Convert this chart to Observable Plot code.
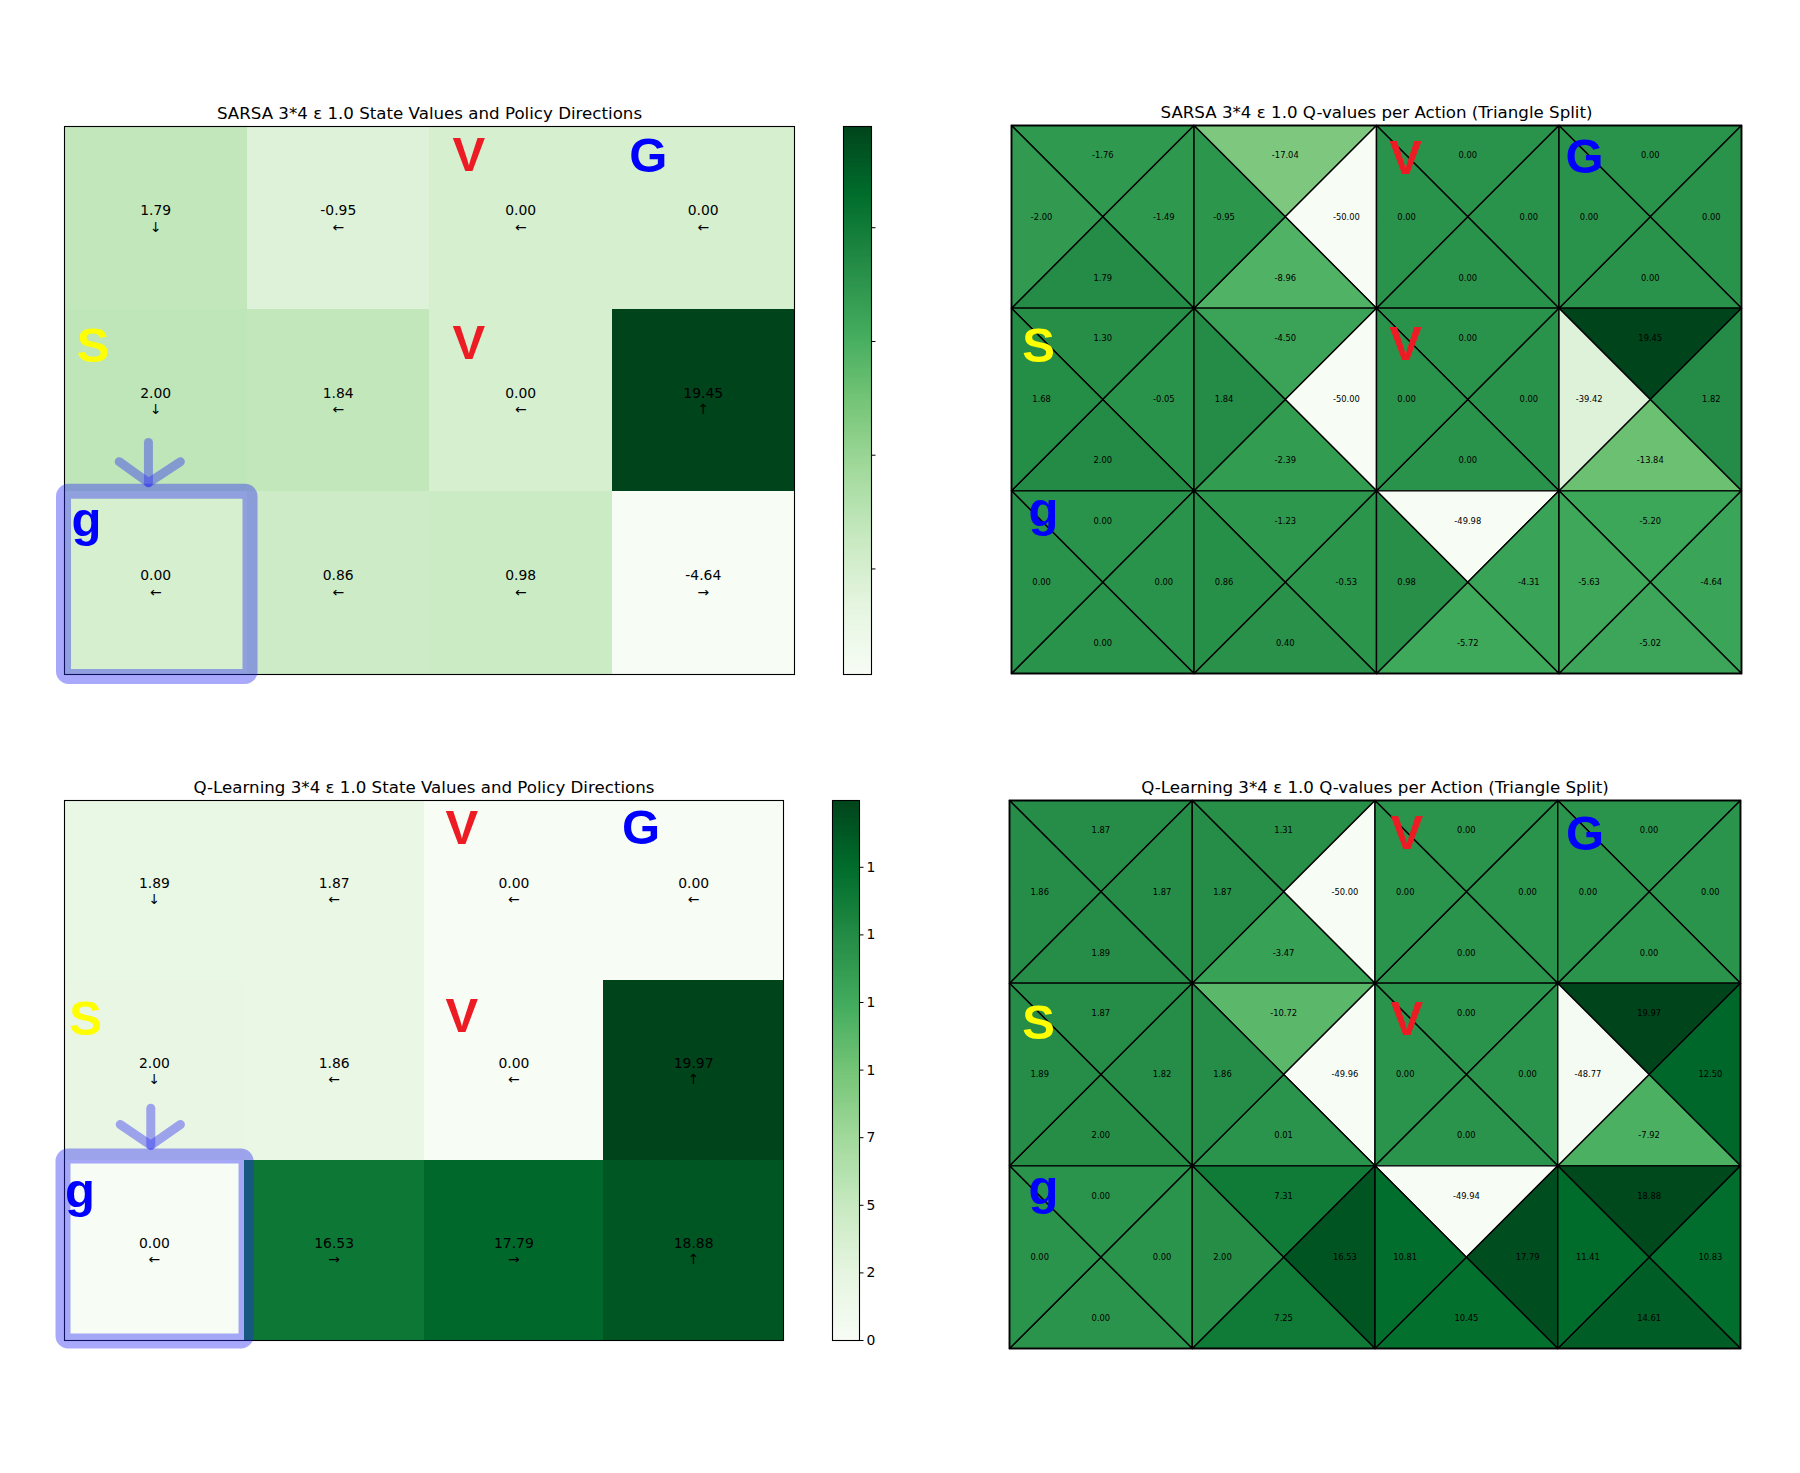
<!DOCTYPE html>
<html>
<head>
<meta charset="utf-8">
<script src="https://cdn.jsdelivr.net/npm/d3@7"></script>
<script src="https://cdn.jsdelivr.net/npm/@observablehq/plot@0.6"></script>
<style>
  body { margin: 0; background: #fff; }
  #fig { position: relative; width: 1800px; height: 1473px; background: #fff; overflow: hidden; }
  .clipL { position: absolute; left: 0; top: 0; width: 876px; height: 1473px; overflow: hidden; }
  .panel { position: absolute; }
  .panel svg { overflow: visible; background: transparent !important; max-width: none !important; }
</style>
</head>
<body>
<div id="fig"><div class="clipL" id="leftClip"></div></div>
<script>
// ---------------- DATA ----------------
const nRows = 3, nCols = 4;

const sarsaHeatTitle = "SARSA 3*4 ε 1.0 State Values and Policy Directions";
const sarsaQTitle = "SARSA 3*4 ε 1.0 Q-values per Action (Triangle Split)";
const qlHeatTitle = "Q-Learning 3*4 ε 1.0 State Values and Policy Directions";
const qlQTitle = "Q-Learning 3*4 ε 1.0 Q-values per Action (Triangle Split)";

// state values (row-major, 3 rows x 4 cols)
const sarsaValues = [1.79, -0.95, 0.00, 0.00,
                     2.00, 1.84, 0.00, 19.45,
                     0.00, 0.86, 0.98, -4.64];
const sarsaPolicy = ["↓", "←", "←", "←",
                     "↓", "←", "←", "↑",
                     "←", "←", "←", "→"];
const qlValues = [1.89, 1.87, 0.00, 0.00,
                  2.00, 1.86, 0.00, 19.97,
                  0.00, 16.53, 17.79, 18.88];
const qlPolicy = ["↓", "←", "←", "←",
                  "↓", "←", "←", "↑",
                  "←", "→", "→", "↑"];

// Q-values per action (row-major)
const sarsaQUp    = [-1.76, -17.04, 0.00, 0.00,   1.30, -4.50, 0.00, 19.45,   0.00, -1.23, -49.98, -5.20];
const sarsaQRight = [-1.49, -50.00, 0.00, 0.00,  -0.05, -50.00, 0.00, 1.82,   0.00, -0.53, -4.31, -4.64];
const sarsaQDown  = [ 1.79, -8.96, 0.00, 0.00,    2.00, -2.39, 0.00, -13.84,  0.00, 0.40, -5.72, -5.02];
const sarsaQLeft  = [-2.00, -0.95, 0.00, 0.00,    1.68, 1.84, 0.00, -39.42,   0.00, 0.86, 0.98, -5.63];

const qlQUp    = [1.87, 1.31, 0.00, 0.00,   1.87, -10.72, 0.00, 19.97,   0.00, 7.31, -49.94, 18.88];
const qlQRight = [1.87, -50.00, 0.00, 0.00, 1.82, -49.96, 0.00, 12.50,   0.00, 16.53, 17.79, 10.83];
const qlQDown  = [1.89, -3.47, 0.00, 0.00,  2.00, 0.01, 0.00, -7.92,     0.00, 7.25, 10.45, 14.61];
const qlQLeft  = [1.86, 1.87, 0.00, 0.00,   1.89, 1.86, 0.00, -48.77,    0.00, 2.00, 10.81, 11.41];

// grid markers
const markerLabels = ["V", "G", "S", "V", "g"];
const markerRows   = [0, 0, 1, 1, 2];
const markerCols   = [2, 3, 0, 2, 0];
const markerColors = ["#ed1c24", "#0000ff", "#ffff00", "#ed1c24", "#0000ff"];

const highlightRow = 2, highlightCol = 0;

const sarsaCbarTicks = [0, 5, 10, 15];
const qlCbarTicks = [0, 2.5, 5, 7.5, 10, 12.5, 15, 17.5];

const greens = ["#f7fcf5", "#e5f5e0", "#c7e9c0", "#a1d99b", "#74c476", "#41ab5d", "#238b45", "#006d2c", "#00441b"];

// ---------------- HELPERS ----------------
const FONT = "DejaVu Sans";
const PAD_X = 22, PAD_T = 48, PAD_B = 22;

function colorScale(min, max) {
  return {type: "linear", domain: greens.map((_, i) => min + (max - min) * i / (greens.length - 1)),
          range: greens, interpolate: "rgb"};
}

function markerData(offsets) {
  return markerLabels.map((label, i) => ({
    label, row: markerRows[i], col: markerCols[i], color: markerColors[i],
    fx: offsets[i][0], fy: offsets[i][1]
  }));
}

function markerMark(offsets) {
  return Plot.text(markerData(offsets), {
    x: d => d.col + d.fx, y: d => d.row + d.fy, text: "label", fill: d => d.color,
    fontSize: 49, fontWeight: "bold", fontFamily: "Liberation Sans", lineAnchor: "bottom", textAnchor: "middle"
  });
}

function titleMark(title) {
  return Plot.text([title], {frameAnchor: "top", dy: -8, lineAnchor: "bottom", fontSize: 16.67, fill: "black"});
}

function place(parent, node, left, top) {
  const div = document.createElement("div");
  div.className = "panel";
  div.style.left = (left - PAD_X) + "px";
  div.style.top = (top - PAD_T) + "px";
  div.appendChild(node);
  parent.appendChild(div);
}

function heatPanel(parent, {left, top, w, h, values, policy, title, offsets, rectInset, arrowGeo}) {
  const min = d3.min(values), max = d3.max(values);
  const cells = values.map((v, i) => ({row: Math.floor(i / nCols), col: i % nCols, v, p: policy[i]}));
  const hl = [{row: highlightRow, col: highlightCol}];
  const a = arrowGeo;
  const stem = [{x: highlightCol + a.x, y: highlightRow + a.top}, {x: highlightCol + a.x, y: highlightRow + a.apex}];
  const chevron = [{x: highlightCol + a.wl, y: highlightRow + a.wy}, {x: highlightCol + a.x, y: highlightRow + a.apex},
                   {x: highlightCol + a.wr, y: highlightRow + a.wy}];
  const hlStroke = "rgb(40,40,245)", hlOpacity = 0.4;
  const plot = Plot.plot({
    width: w + 2 * PAD_X, height: h + PAD_T + PAD_B,
    marginLeft: PAD_X, marginRight: PAD_X, marginTop: PAD_T, marginBottom: PAD_B,
    x: {domain: [0, nCols], axis: null},
    y: {domain: [0, nRows], reverse: true, axis: null},
    color: colorScale(min, max),
    style: {fontFamily: FONT, background: "transparent", overflow: "visible"},
    marks: [
      Plot.rect(cells, {x1: "col", x2: d => d.col + 1, y1: "row", y2: d => d.row + 1, fill: "v", shapeRendering: "crispEdges"}),
      Plot.text(cells, {x: d => d.col + 0.5, y: d => d.row + 0.5, text: d => d.v.toFixed(2) + "\n" + d.p,
                        fontSize: 13.9, lineHeight: 1.2, fill: "black"}),
      Plot.frame({stroke: "black", strokeWidth: 1.1}),
      Plot.rect(hl, {x1: "col", x2: d => d.col + 1, y1: "row", y2: d => d.row + 1,
                     insetLeft: rectInset[0], insetRight: rectInset[1], insetTop: rectInset[2], insetBottom: rectInset[3],
                     fill: "none", stroke: hlStroke, strokeOpacity: hlOpacity, strokeWidth: 15, rx: 5, strokeLinejoin: "round"}),
      Plot.line(stem, {x: "x", y: "y", stroke: hlStroke, strokeOpacity: hlOpacity, strokeWidth: 9, strokeLinecap: "round"}),
      Plot.line(chevron, {x: "x", y: "y", stroke: hlStroke, strokeOpacity: hlOpacity, strokeWidth: 9,
                          strokeLinecap: "round", strokeLinejoin: "round"}),
      markerMark(offsets),
      titleMark(title)
    ]
  });
  place(parent, plot, left, top);
}

function colorbar(parent, {left, top, w, h, min, max, ticks, fmt}) {
  const steps = d3.range(240).map(i => [min + (max - min) * i / 240, min + (max - min) * (i + 1) / 240]);
  const plot = Plot.plot({
    width: w + 2 * PAD_X + 40, height: h + PAD_T + PAD_B,
    marginLeft: PAD_X, marginRight: PAD_X + 40, marginTop: PAD_T, marginBottom: PAD_B,
    x: {domain: [0, 1], axis: null},
    y: {domain: [min, max], axis: "right", ticks, tickSize: 3.5, tickPadding: 3.5, tickFormat: fmt, label: null},
    color: colorScale(min, max),
    style: {fontFamily: FONT, fontSize: "13.9px", background: "transparent", overflow: "visible", color: "black"},
    marks: [
      Plot.rect(steps, {x1: 0, x2: 1, y1: d => d[0], y2: d => d[1], fill: d => (d[0] + d[1]) / 2, shapeRendering: "crispEdges"}),
      Plot.frame({stroke: "black", strokeWidth: 1.1})
    ]
  });
  place(parent, plot, left, top);
}

function triPanel(parent, {left, top, w, h, qUp, qRight, qDown, qLeft, title, offsets}) {
  const all = [...qUp, ...qRight, ...qDown, ...qLeft];
  const min = d3.min(all), max = d3.max(all);
  const points = [], labels = [];
  const k = 0.335;
  for (let i = 0; i < nRows * nCols; ++i) {
    const r = Math.floor(i / nCols), c = i % nCols;
    const TL = [c, r], TR = [c + 1, r], BR = [c + 1, r + 1], BL = [c, r + 1], C = [c + 0.5, r + 0.5];
    const tri = [
      {v: qUp[i], pts: [TL, TR, C], d: [0, -k]},
      {v: qRight[i], pts: [TR, BR, C], d: [k, 0]},
      {v: qDown[i], pts: [BR, BL, C], d: [0, k]},
      {v: qLeft[i], pts: [BL, TL, C], d: [-k, 0]}
    ];
    tri.forEach((t, j) => {
      const id = i * 4 + j;
      t.pts.forEach(p => points.push({id, x: p[0], y: p[1], v: t.v}));
      labels.push({x: C[0] + t.d[0], y: C[1] + t.d[1], v: t.v});
    });
  }
  const plot = Plot.plot({
    width: w + 2 * PAD_X, height: h + PAD_T + PAD_B,
    marginLeft: PAD_X, marginRight: PAD_X, marginTop: PAD_T, marginBottom: PAD_B,
    x: {domain: [0, nCols], axis: null},
    y: {domain: [0, nRows], reverse: true, axis: null},
    color: colorScale(min, max),
    style: {fontFamily: FONT, background: "transparent", overflow: "visible"},
    marks: [
      Plot.line(points, {x: "x", y: "y", z: "id", fill: "v", stroke: "black", strokeWidth: 1.4, curve: "linear-closed"}),
      Plot.text(labels, {x: "x", y: "y", text: d => d.v.toFixed(2), fontSize: 8.33, fill: "black"}),
      Plot.frame({stroke: "black", strokeWidth: 1.6}),
      markerMark(offsets),
      titleMark(title)
    ]
  });
  place(parent, plot, left, top);
}

// ---------------- RENDER ----------------
const fig = document.getElementById("fig");
const leftClip = document.getElementById("leftClip");

heatPanel(leftClip, {
  left: 64, top: 126, w: 730, h: 548, values: sarsaValues, policy: sarsaPolicy, title: sarsaHeatTitle,
  offsets: [[0.216, 0.243], [0.199, 0.25], [0.157, 0.29], [0.216, 0.271], [0.12, 0.241]],
  rectInset: [-0.5, -3.5, 0, -2.5],
  arrowGeo: {x: 0.46, top: -0.27, apex: -0.05, wl: 0.30, wr: 0.635, wy: -0.165}
});
colorbar(leftClip, {left: 843, top: 126, w: 28, h: 548, min: d3.min(sarsaValues), max: d3.max(sarsaValues),
  ticks: sarsaCbarTicks, fmt: d => String(d)});

triPanel(fig, {
  left: 1011, top: 125, w: 730, h: 548, qUp: sarsaQUp, qRight: sarsaQRight, qDown: sarsaQDown, qLeft: sarsaQLeft,
  title: sarsaQTitle,
  offsets: [[0.159, 0.263], [0.14, 0.26], [0.148, 0.297], [0.159, 0.282], [0.175, 0.193]]
});

heatPanel(leftClip, {
  left: 64, top: 800, w: 719, h: 540, values: qlValues, policy: qlPolicy, title: qlHeatTitle,
  offsets: [[0.211, 0.244], [0.208, 0.244], [0.118, 0.30], [0.211, 0.286], [0.086, 0.261]],
  rectInset: [-1, -2.3, -4, -1],
  arrowGeo: {x: 0.48, top: -0.29, apex: -0.085, wl: 0.31, wr: 0.645, wy: -0.2}
});
colorbar(leftClip, {left: 832, top: 800, w: 27, h: 540, min: d3.min(qlValues), max: d3.max(qlValues),
  ticks: qlCbarTicks, fmt: d => d.toFixed(1)});

triPanel(fig, {
  left: 1009, top: 800, w: 731, h: 548, qUp: qlQUp, qRight: qlQRight, qDown: qlQDown, qLeft: qlQLeft,
  title: qlQTitle,
  offsets: [[0.174, 0.268], [0.15, 0.27], [0.159, 0.308], [0.174, 0.285], [0.186, 0.209]]
});
</script>
</body>
</html>
